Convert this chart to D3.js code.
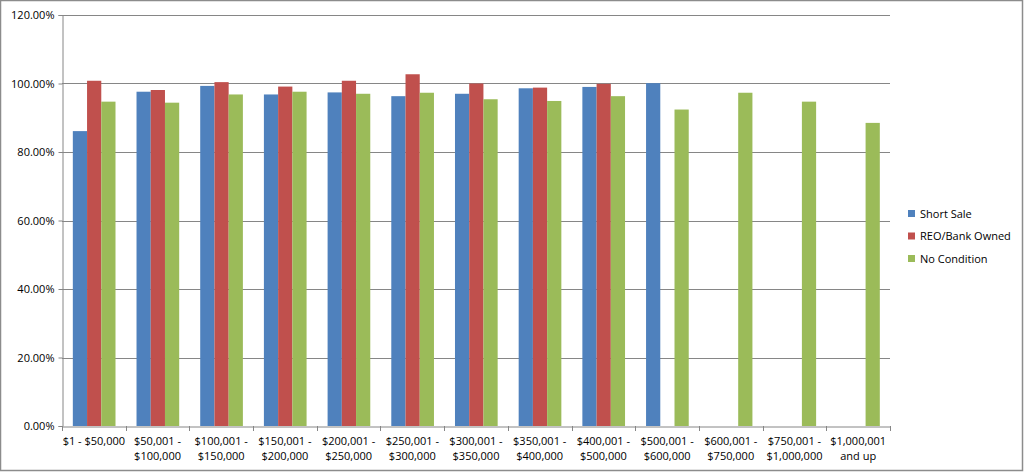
<!DOCTYPE html>
<html><head><meta charset="utf-8">
<script src="https://cdn.jsdelivr.net/npm/d3@7"></script>
<style>body{margin:0;background:#fff;}svg{display:block;font-family:"Open Sans","Noto Sans",sans-serif;}</style>
</head><body>
<svg id="chart" width="1024" height="472"></svg>
<script>
const categories = [
  ["$1 - $50,000"], ["$50,001 -","$100,000"], ["$100,001 -","$150,000"], ["$150,001 -","$200,000"],
  ["$200,001 -","$250,000"], ["$250,001 -","$300,000"], ["$300,001 -","$350,000"], ["$350,001 -","$400,000"],
  ["$400,001 -","$500,000"], ["$500,001 -","$600,000"], ["$600,001 -","$750,000"], ["$750,001 -","$1,000,000"],
  ["$1,000,001","and up"]
];
const seriesNames = ["Short Sale", "REO/Bank Owned", "No Condition"];
const shortSale = [86.1, 97.6, 99.3, 96.8, 97.4, 96.3, 97.0, 98.6, 99.0, 100.1, null, null, null];
const reoBankOwned = [100.8, 98.1, 100.4, 99.1, 100.8, 102.7, 100.0, 98.8, 99.9, null, null, null, null];
const noCondition = [94.7, 94.4, 96.8, 97.6, 97.0, 97.3, 95.4, 94.9, 96.3, 92.4, 97.3, 94.7, 88.5];
const yTicks = [0, 20, 40, 60, 80, 100, 120];
const colors = ["#4F81BD", "#C0504D", "#9BBB59"];

const allSeries = [shortSale, reoBankOwned, noCondition];
const svg = d3.select("#chart");
const mLeft = 62, mRight = 890, mTop = 15, mBottom = 426;

svg.append("rect").attr("x",0.5).attr("y",0.5).attr("width",1022).attr("height",470)
  .attr("fill","#fff").attr("stroke","#8c8c8c").attr("stroke-width",1.5);

const idx = categories.map((d,i)=>i);
const x0 = d3.scaleBand().domain(idx).range([mLeft, mRight]).paddingInner(0).paddingOuter(0);
const step = x0.bandwidth();
const x1 = d3.scaleBand().domain([0,1,2]).range([step*0.17, step*0.84]);
const y = d3.scaleLinear().domain([0,120]).range([mBottom, mTop]);

// gridlines
svg.append("g").selectAll("line").data(yTicks.filter(t=>t>0)).join("line")
  .attr("x1", mLeft).attr("x2", mRight)
  .attr("y1", d=>Math.round(y(d))+0.5).attr("y2", d=>Math.round(y(d))+0.5)
  .attr("stroke","#868686").attr("stroke-width",1);

// bars
allSeries.forEach((vals, s) => {
  svg.append("g").selectAll("rect").data(vals.map((v,i)=>({v,i})).filter(d=>d.v!=null)).join("rect")
    .attr("x", d=>x0(d.i)+x1(s)).attr("width", x1.bandwidth())
    .attr("y", d=>y(d.v)).attr("height", d=>y(0)-y(d.v))
    .attr("fill", colors[s]);
});

// y axis
const yAxis = d3.axisLeft(y).tickValues(yTicks).tickSize(4).tickFormat(d=>d.toFixed(2)+"%");
const ga = svg.append("g").attr("transform",`translate(${mLeft+0.5},0)`).call(yAxis);
ga.select(".domain").attr("stroke","#868686");
ga.selectAll(".tick line").attr("stroke","#868686");
ga.selectAll(".tick text").attr("font-size",11).attr("fill","#000").attr("x",-8)
  .attr("font-family","'Open Sans','Noto Sans',sans-serif");

// x axis
const xAxis = d3.axisBottom(x0).tickSize(0).tickFormat("");
const gx = svg.append("g").attr("transform",`translate(0,${mBottom+0.5})`).call(xAxis);
gx.select(".domain").attr("stroke","#868686");
gx.selectAll(".tick").remove();
svg.append("g").selectAll("line").data(idx.concat([idx.length])).join("line")
  .attr("x1", d=>Math.round(d<idx.length ? x0(d) : mRight)+0.5)
  .attr("x2", d=>Math.round(d<idx.length ? x0(d) : mRight)+0.5)
  .attr("y1", mBottom).attr("y2", mBottom+5).attr("stroke","#868686");

const lbl = svg.append("g").selectAll("text").data(categories.map((c,i)=>({c,i}))).join("text")
  .attr("x", d=>x0(d.i)+step/2).attr("y", 445).attr("text-anchor","middle")
  .attr("font-size",11).attr("fill","#000");
lbl.each(function(d){
  const t = d3.select(this);
  d.c.forEach((line,k)=>{
    t.append("tspan").attr("x", x0(d.i)+step/2).attr("dy", k===0?0:15).text(line);
  });
});

// legend
const lg = svg.append("g").selectAll("g").data(seriesNames).join("g")
  .attr("transform",(d,i)=>`translate(908,${210+i*22.5})`);
lg.append("rect").attr("width",7).attr("height",7).attr("fill",(d,i)=>colors[i]);
lg.append("text").attr("x",12).attr("y",7.5).attr("font-size",11).attr("fill","#000").text(d=>d);
</script>
</body></html>
